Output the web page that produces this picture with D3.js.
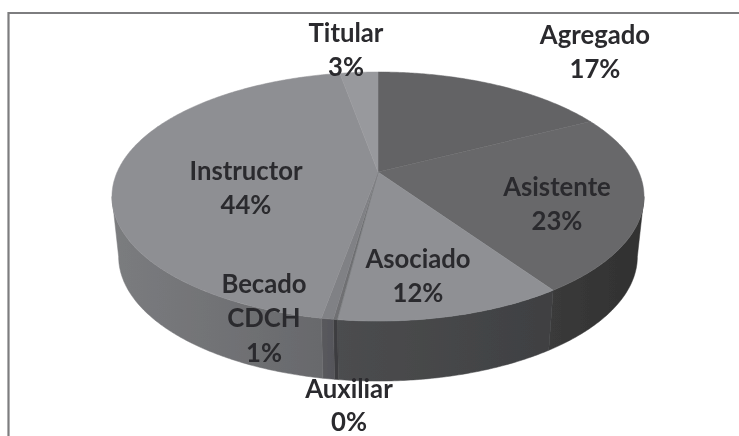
<!DOCTYPE html>
<html><head><meta charset="utf-8">
<script src="https://cdn.jsdelivr.net/npm/d3@7"></script>
<style>html,body{margin:0;padding:0;background:#fff}svg{display:block}
text{font-family:Lato,"Open Sans",sans-serif;font-weight:700;font-size:25.7px;fill:#2b2a2d;text-anchor:middle}</style>
</head><body><svg id="c" width="739" height="436"></svg>
<script>
const categories = ["Agregado","Asistente","Asociado","Auxiliar","Becado CDCH","Instructor","Titular"];
const values = [17.4,23.1,11.5,0.2,0.6,44.4,2.8];
const topColors = ["#636365","#68686a","#8f9094","#6f7073","#808185","#8e8f93","#98999d"];
const sideLeft = ["#2f2f2f","#3a3a3a","#4c4d4f","#3e3e40","#5a5a5d","#7b7c7f","#6a6b6e"];
const sideRight = ["#2f2f2f","#303030","#3f4042","#3e3e40","#55555a","#68696c","#6a6b6e"];
const labelLines = [["Agregado"],["Asistente"],["Asociado"],["Auxiliar"],["Becado","CDCH"],["Instructor"],["Titular"]];
const labelAnchors = [[595,44],[557,196],[418,268],[349,398],[264,293],[246,180],[346,42]];
const labelSpacing = [34.4,34.4,34.4,32.6,34.4,34.4,34.4];

const W=739,H=436,cx=378,cy=172,R=260.8,S=119.7,k=0.197,depth=60,shrink=0.975;
const svg=d3.select("#c");
const defs=svg.append("defs");
defs.append("filter").attr("id","soft").attr("x",0).attr("y",0).attr("width",1).attr("height",1)
  .append("feGaussianBlur").attr("stdDeviation",0.45);
const root=svg.append("g").attr("filter","url(#soft)");
root.append("rect").attr("width",W).attr("height",H).attr("fill","#fff");
root.append("path").attr("d",`M8.5,${H} V13 H${W}`).attr("fill","none").attr("stroke","#7d7d7f").attr("stroke-width",2.2);

const project=(a,lower)=>{
  const u=Math.sin(a),v=-Math.cos(a),w=1-k*v;
  const x=R*u/w,y=cy+S*v/w;
  return lower?[cx+x*shrink,y+depth]:[cx+x,y];
};
const line=d3.line();
const rim=(a0,a1,lower)=>{
  const n=Math.max(2,Math.ceil(Math.abs(a1-a0)/0.01));
  return d3.range(n+1).map(i=>project(a0+(a1-a0)*i/n,lower));
};
const arcs=d3.pie().sort(null)(values);
// the wall is visible only between the two silhouette tangents of the rim
const tangent=Math.acos(-k), visA=tangent, visB=2*Math.PI-tangent;

arcs.forEach((d,i)=>{
  const a0=Math.max(d.startAngle,visA),a1=Math.min(d.endAngle,visB);
  if(a1<=a0) return;
  const id="side"+i;
  const p0=project(a0),p1=project(a1);
  const g=defs.append("linearGradient").attr("id",id).attr("gradientUnits","userSpaceOnUse")
    .attr("x1",Math.min(p0[0],p1[0])).attr("x2",Math.max(p0[0],p1[0])+0.1).attr("y1",0).attr("y2",0);
  g.append("stop").attr("offset",0).attr("stop-color",sideLeft[i]);
  g.append("stop").attr("offset",1).attr("stop-color",sideRight[i]);
  const pts=rim(a0,a1,false).concat(rim(a1,a0,true));
  root.append("path").attr("d",line(pts)+"Z").attr("fill",`url(#${id})`).attr("stroke",`url(#${id})`).attr("stroke-width",0.5);
});
arcs.forEach((d,i)=>{
  const pts=[[cx,cy]].concat(rim(d.startAngle,d.endAngle,false));
  root.append("path").attr("d",line(pts)+"Z").attr("fill",topColors[i]).attr("stroke",topColors[i]).attr("stroke-width",0.5);
});
categories.forEach((c,i)=>{
  const lines=labelLines[i].concat([Math.round(values[i])+"%"]);
  const [x,y]=labelAnchors[i];
  lines.forEach((t,j)=>root.append("text").attr("x",x).attr("y",y+j*labelSpacing[i]).text(t));
});
</script></body></html>
